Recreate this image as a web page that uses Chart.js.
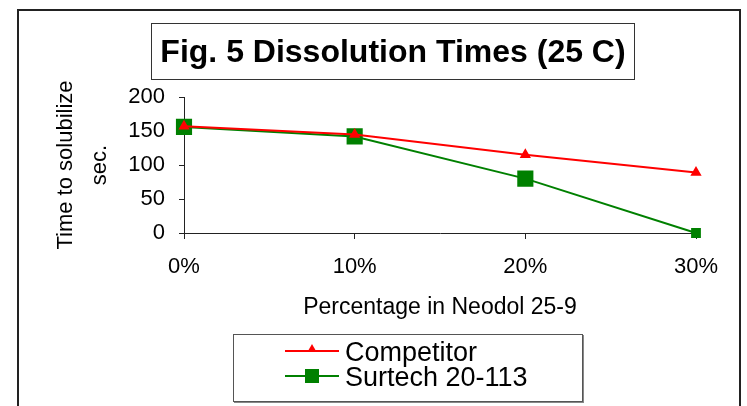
<!DOCTYPE html>
<html>
<head>
<meta charset="utf-8">
<script src="https://cdn.jsdelivr.net/npm/chart.js@4.4.0/dist/chart.umd.min.js"></script>
<style>
  html, body { margin: 0; padding: 0; background: #fff; }
  body { width: 747px; height: 406px; position: relative; overflow: hidden; font-family: Arial, "Liberation Sans", sans-serif; }
  #frame { position: absolute; left: 17px; top: 9px; width: 720px; height: 420px; border: 2px solid #222; }
  #chart { position: absolute; left: 0; top: 0; }
  #title { position: absolute; left: 151px; top: 23px; width: 482px; height: 55px; border: 1px solid #333;
           font-weight: bold; font-size: 32px; line-height: 55px; text-align: center; color: #000; }
  #legend { position: absolute; left: 233px; top: 334px; width: 348px; height: 66px; border: 1px solid #555;
            box-shadow: 1px 1px 0 #888; font-size: 27px; color: #000; }
  .item { position: absolute; left: 0; width: 348px; height: 26px; }
  .line { position: absolute; left: 51px; width: 54px; height: 2px; top: 12px; }
  .label { position: absolute; left: 111px; top: 1px; line-height: 26px; white-space: nowrap; }
  .tri { position: absolute; left: 74px; top: 6px; width: 0; height: 0;
         border-left: 4px solid transparent; border-right: 4px solid transparent; border-bottom: 7px solid #ff0000; }
  .sq { position: absolute; left: 71px; top: 6px; width: 14px; height: 14px; background: #008000; }
</style>
</head>
<body>
<div id="frame"></div>
<canvas id="chart" width="747" height="406"></canvas>
<div id="title">Fig. 5 Dissolution Times (25 C)</div>
<div id="legend"></div>
<script>
// data
var categories = ['0%', '10%', '20%', '30%'];
var competitor = [157, 145, 115, 89];
var surtech = [156, 142, 80, 0];
var yTicks = [0, 50, 100, 150, 200];

var seriesNames = ['Competitor', 'Surtech 20-113'];
var seriesColors = ['#ff0000', '#008000'];

var fontFamily = 'Arial, "Liberation Sans", sans-serif';

var ctx = document.getElementById('chart').getContext('2d');
var chart = new Chart(ctx, {
  type: 'line',
  data: {
    labels: categories,
    datasets: [{
      label: seriesNames[0],
      data: competitor,
      borderColor: seriesColors[0],
      backgroundColor: seriesColors[0],
      borderWidth: 2,
      pointStyle: 'triangle',
      pointRadius: 4.5,
      tension: 0,
      clip: false
    }, {
      label: seriesNames[1],
      data: surtech,
      borderColor: seriesColors[1],
      backgroundColor: seriesColors[1],
      borderWidth: 2,
      pointStyle: 'rect',
      pointRadius: [10, 10, 10, 5.5],
      tension: 0,
      clip: false
    }]
  },
  options: {
    responsive: false,
    animation: false,
    layout: { padding: { left: 0, top: 97, right: 51, bottom: 85 } },
    plugins: {
      legend: { display: false },
      title: { display: false },
      tooltip: { enabled: false }
    },
    scales: {
      x: {
        type: 'category',
        offset: false,
        grid: { drawOnChartArea: false, drawTicks: true, tickLength: 6, color: '#222' },
        border: { color: '#222', width: 1 },
        ticks: { color: '#000', padding: 15, maxRotation: 0, font: { family: fontFamily, size: 22 } },
        title: {
          display: true, text: 'Percentage in Neodol 25-9', color: '#000',
          font: { family: fontFamily, size: 23, lineHeight: 1.2 }, padding: 0
        },
        afterFit: function (scale) { scale.height = 88; }
      },
      y: {
        min: 0,
        max: 200,
        grid: { drawOnChartArea: false, drawTicks: true, tickLength: 5, color: '#222' },
        border: { color: '#222', width: 1 },
        afterBuildTicks: function (scale) {
          scale.ticks = yTicks.map(function (v) { return { value: v }; });
        },
        ticks: { color: '#000', padding: 14, font: { family: fontFamily, size: 22 } },
        title: {
          display: true, text: ['Time to solubilize', 'sec.'], color: '#000',
          font: { family: fontFamily, size: 22, lineHeight: 1.55 }, padding: { top: 49, bottom: 0 }
        },
        afterFit: function (scale) { scale.width = 184; }
      }
    }
  }
});

// legend drawn as html, one row per series
var legend = document.getElementById('legend');
var markers = ['tri', 'sq'];
var rowTops = [16, 41];
seriesNames.forEach(function (name, i) {
  var row = document.createElement('div');
  row.className = 'item';
  row.style.top = (rowTops[i] - 13) + 'px';
  row.innerHTML = '<div class="line" style="background:' + seriesColors[i] + '"></div>' +
    '<div class="' + markers[i] + '"></div>' +
    '<div class="label">' + name + '</div>';
  legend.appendChild(row);
});
</script>
</body>
</html>
